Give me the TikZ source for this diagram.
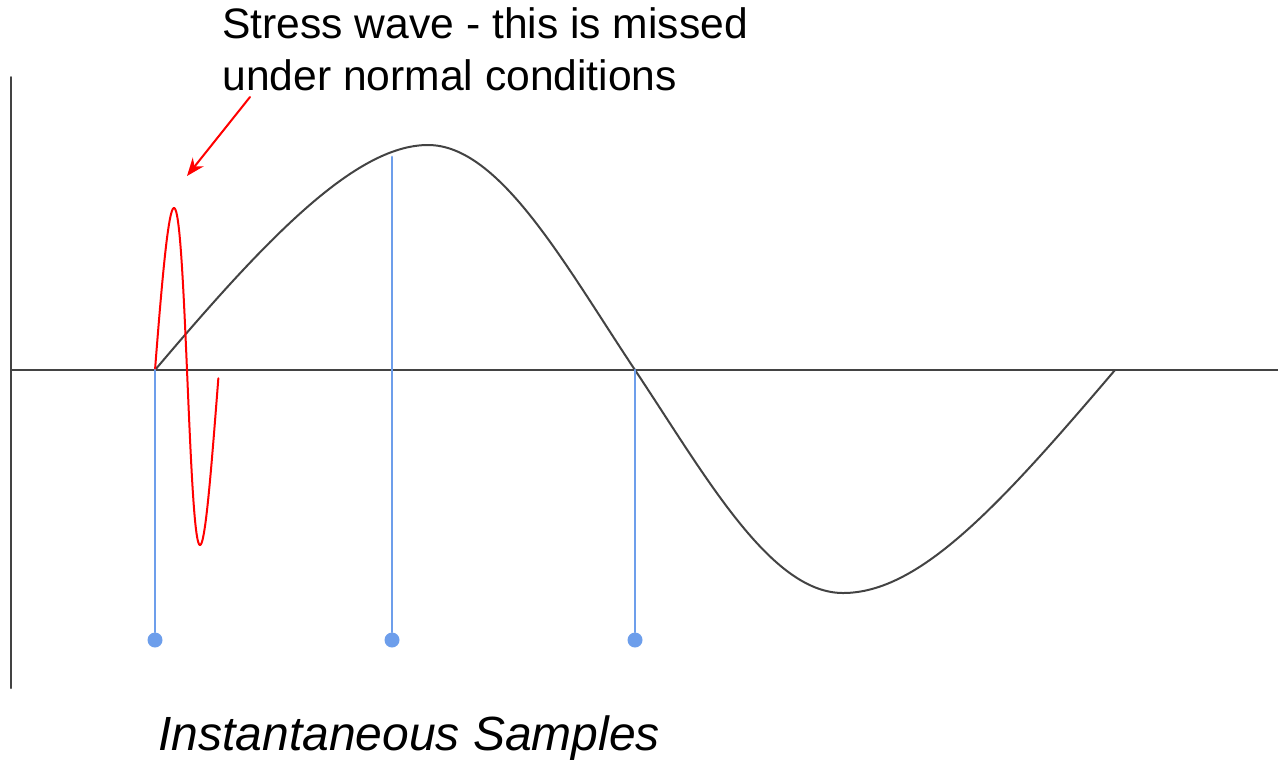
\documentclass[tikz,border=0pt]{standalone}
\usepackage{fontspec}
\setmainfont{Liberation Sans}
\usetikzlibrary{arrows.meta, positioning}
\definecolor{axisgrey}{HTML}{434343}
\definecolor{samplblue}{HTML}{6D9EEB}
\definecolor{stressred}{HTML}{FF0000}

\begin{document}
\begin{tikzpicture}[x=0.5pt, y=-0.5pt, line cap=round, line join=round]
      \tikzset{
        axisline/.style={line width=1pt, axisgrey},
        sampleline/.style={line width=1.4pt, samplblue},
        sampledot/.style={circle, fill=samplblue, inner sep=0pt, minimum size=7.5pt},
      }
      \useasboundingbox (0,0) rectangle (1278,761);

      % Ejes
      \draw[axisline] (11,77) -- (11,688);
      \draw[axisline] (11,370) -- (1278,370);

      % Onda principal
      \draw[axisline] (155,370) .. controls (265,240) and (355,145) .. (428,145)
        .. controls (500,145) and (565,265) .. (635,370)
        .. controls (705,475) and (770,593) .. (843,593)
        .. controls (920,593) and (1000,505) .. (1115,370);

      % Onda de esfuerzo
      \draw[stressred, line width=1pt, domain=0:63.5, samples=120, smooth]
        plot ({155+\x+3*sin(\x*5.625)}, {370-(168.5-6.5*sin(\x*5.625))*sin(\x*5.625)});

      % Muestras instantaneas
      \node[sampledot] (s1) at (155,640) {};
      \node[sampledot] (s2) at (392,640) {};
      \node[sampledot] (s3) at (635,640) {};
      \coordinate (t1) at (155,370);
      \coordinate (t2) at (392,157);
      \coordinate (t3) at (635,370);
      \draw[sampleline] (t1) -- (s1);
      \draw[sampleline] (t2) -- (s2);
      \draw[sampleline] (t3) -- (s3);

      % Textos
      \node[anchor=base west, inner sep=0pt, align=left, font=\fontsize{21.3}{26}\selectfont] (stresslbl) at (222,90)
        {Stress wave - this is missed\\under normal conditions};
      \node[anchor=base west, inner sep=0pt, font=\fontsize{24}{29}\selectfont\itshape] (samplelbl) at (158,750)
        {Instantaneous Samples};

      % Flecha roja
      \coordinate (arrstart) at (250,97);
      \coordinate (arrend) at (187,176);
      \draw[stressred, line width=1pt, -{Stealth[length=9pt, width=7pt]}] (arrstart) -- (arrend);
    \end{tikzpicture}
\end{document}
